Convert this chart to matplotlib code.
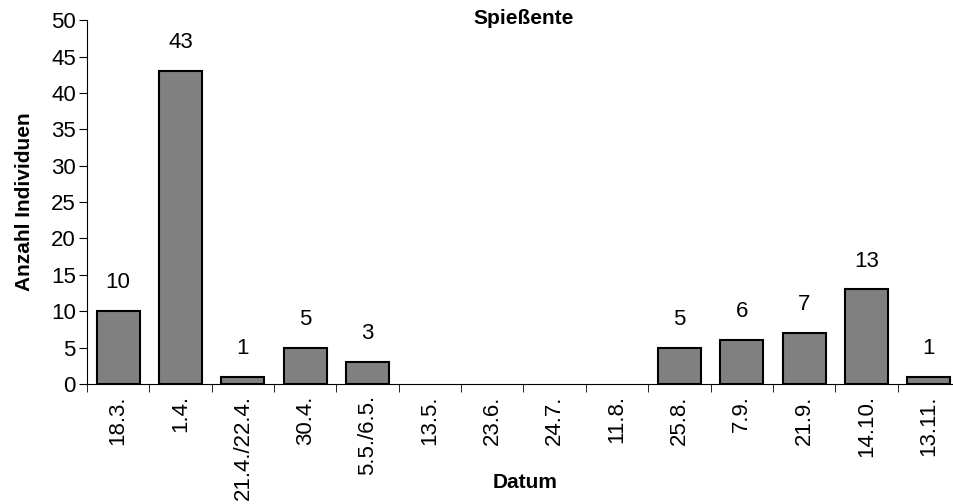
import numpy as np
import matplotlib.pyplot as plt

plt.rcParams['font.family'] = ['Liberation Sans', 'DejaVu Sans']

dates = ["18.3.", "1.4.", "21.4./22.4.", "30.4.", "5.5./6.5.", "13.5.", "23.6.",
         "24.7.", "11.8.", "25.8.", "7.9.", "21.9.", "14.10.", "13.11."]
counts = [10, 43, 1, 5, 3, 0, 0, 0, 0, 5, 6, 7, 13, 1]

fig = plt.figure(figsize=[9.54, 5.04], dpi=100)
ax = fig.add_axes([0.0912, 0.238, 0.915, 0.722])

x = np.arange(len(dates))
# empty dates get no outline so nothing sits on the axis line
edge_w = [1.5 if c > 0 else 0 for c in counts]
ax.bar(x, counts, width=0.69, color="#808080", edgecolor="black", linewidth=edge_w, zorder=2)

for xi, c in zip(x, counts):
    if c > 0:
        ax.text(xi, c + 3.9, str(c), ha="center", va="center", fontsize=16)

ax.set_xlim(-0.5, len(dates) - 0.5)
ax.set_ylim(0, 50)
ax.set_yticks(range(0, 51, 5))
ax.tick_params(axis="y", labelsize=16, length=6, direction="out", pad=2)

# category labels centered under bars, tick marks between categories
ax.set_xticks(x)
ax.set_xticklabels(dates, rotation=90, fontsize=16)
ax.tick_params(axis="x", which="major", length=0, pad=8)
ax.set_xticks(np.arange(-0.5, len(dates), 1), minor=True)
ax.tick_params(axis="x", which="minor", length=6, direction="out")

for s in ["top", "right"]:
    ax.spines[s].set_visible(False)

ax.set_ylabel("Anzahl Individuen", fontsize=15, fontweight="bold", labelpad=12)
ax.set_xlabel("Datum", fontsize=15, fontweight="bold")
ax.xaxis.set_label_coords(0.502, -0.245)
ax.set_title("Spießente", fontsize=15, fontweight="bold", y=0.99, pad=0)

fig.savefig("out.png", dpi=100)
